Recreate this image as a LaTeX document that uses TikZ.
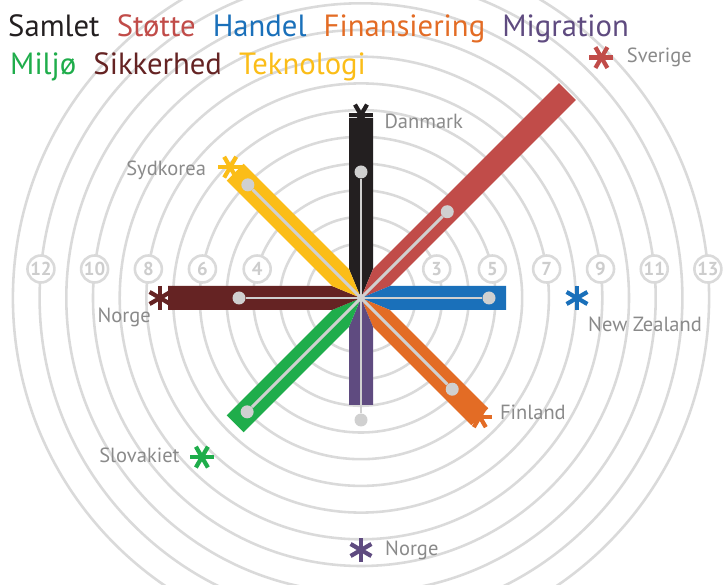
\documentclass[tikz,border=0pt]{standalone}
\usepackage{fontspec}
\setmainfont{PT Sans}
\usetikzlibrary{positioning, calc}

\definecolor{colSam}{RGB}{35,31,32}
\definecolor{colStoe}{RGB}{193,76,73}
\definecolor{colHan}{RGB}{26,112,186}
\definecolor{colFin}{RGB}{227,108,37}
\definecolor{colMig}{RGB}{95,75,128}
\definecolor{colMil}{RGB}{31,173,75}
\definecolor{colSik}{RGB}{101,35,35}
\definecolor{colTek}{RGB}{251,189,24}
\definecolor{ringgray}{RGB}{218,218,218}
\definecolor{numgray}{RGB}{205,205,205}
\definecolor{spokegray}{RGB}{208,208,208}
\definecolor{labgray}{RGB}{138,138,138}

\begin{document}
\begin{tikzpicture}[
      x=0.03cm, y=0.03cm,
      ring/.style   ={draw=ringgray, line width=2.2pt},
      ringnum/.style={circle, draw=ringgray, line width=2.2pt, fill=white, text=numgray,
                      font=\bfseries\fontsize{16}{16}\selectfont, minimum size=0.81cm, inner sep=0pt},
      spoke/.style  ={draw=spokegray, line width=2.5pt},
      dotnode/.style={circle, fill=spokegray, minimum size=0.39cm, inner sep=0pt},
      title/.style  ={inner sep=0pt, font=\fontsize{26.2}{26.2}\selectfont},
      land/.style   ={inner sep=0pt, text=labgray, font=\fontsize{17.5}{17.5}\selectfont},
      astk/.pic     ={\foreach \a in {0,60,120} \draw[line width=3.6pt] (\a:12) -- (\a+180:12);}
    ]
    \useasboundingbox (0,0) rectangle (726,584);
    \clip (0,0) rectangle (726,584);

    \coordinate (o) at (361,286);

    % Ringe
    \foreach \n in {1,...,13}
      \draw[ring] (o) circle[radius=26.7*\n+1];

    % Ringtal
    \foreach \n in {3,5,...,13}
      \node[ringnum] (n\n) at ($(o)+({asin(29/(26.7*\n+1))}:{26.7*\n+1})$) {\n};
    \foreach \n in {4,6,...,12}
      \node[ringnum] (n\n) at ($(o)+({180-asin(29/(26.7*\n+1))}:{26.7*\n+1})$) {\n};

    % Overskrift
    \node[title, text=colSam, anchor=base west] (tSam) at (8,547) {Samlet};
    \node[title, text=colStoe, base right=5mm of tSam]  (tStoe) {Støtte};
    \node[title, text=colHan,  base right=5mm of tStoe] (tHan)  {Handel};
    \node[title, text=colFin,  base right=5mm of tHan]  (tFin)  {Finansiering};
    \node[title, text=colMig,  base right=5mm of tFin]  (tMig)  {Migration};
    \node[title, text=colMil, anchor=base west] (tMil) at (10,509) {Miljø};
    \node[title, text=colSik,  base right=5mm of tMil]  (tSik)  {Sikkerhed};
    \node[title, text=colTek,  base right=5mm of tSik]  (tTek)  {Teknologi};

    % Bedste lande
    \coordinate (sDK)  at ($(o)+(90:183)$);
    \coordinate (sSE)  at ($(o)+(45:340)$);
    \coordinate (sNZ)  at ($(o)+(0:216)$);
    \coordinate (sFI)  at ($(o)+(-45:168)$);
    \coordinate (sNOm) at ($(o)+(-90:252)$);
    \coordinate (sSK)  at ($(o)+(-135:225)$);
    \coordinate (sNOs) at ($(o)+(180:201)$);
    \coordinate (sKR)  at ($(o)+(135:185)$);

    \pic[colSam]             at (sDK)  {astk};
    \pic[colStoe]            at (sSE)  {astk};
    \pic[colHan, rotate=30]  at (sNZ)  {astk};
    \pic[colFin]             at (sFI)  {astk};
    \pic[colMig, rotate=30]  at (sNOm) {astk};
    \pic[colMil]             at (sSK)  {astk};
    \pic[colSik, rotate=30]  at (sNOs) {astk};
    \pic[colTek]             at (sKR)  {astk};

    \node[land, right=7mm of sDK, yshift=-1.8mm]  (lDK)  {Danmark};
    \node[land, right=7.6mm of sSE]               (lSE)  {Sverige};
    \node[land, right=3.3mm of sNZ, yshift=-8mm]  (lNZ)  {New Zealand};
    \node[land, right=6mm of sFI, yshift=1.2mm]   (lFI)  {Finland};
    \node[land, right=7.2mm of sNOm]              (lNOm) {Norge};
    \node[land, left=6.6mm of sSK, yshift=0.6mm]  (lSK)  {Slovakiet};
    \node[land, left=2.7mm of sNOs, yshift=-5.7mm](lNOs) {Norge};
    \node[land, left=7.2mm of sKR, yshift=-0.9mm] (lKR)  {Sydkorea};

    % Danmarks placering
    \foreach \ang/\len/\col in {90/180/colSam, 45/292/colStoe, 0/145/colHan, -45/168/colFin,
                                -90/107/colMig, -135/178/colMil, 180/193/colSik, 135/178/colTek}
      \fill[\col, shift={(o)}, rotate=\ang] (0,0) -- (29,12) -- (\len,12) -- (\len,-12) -- (29,-12) -- cycle;

    % Gennemsnit
    \foreach \ang/\dr [count=\i] in {90/126, 45/122, 0/128, -45/129, -90/122, -135/161, 180/122, 135/160}{
      \node[dotnode] (d\i) at ($(o)+(\ang:\dr)$) {};
      \draw[spoke] (o) -- (d\i);
    }

  \end{tikzpicture}
\end{document}
